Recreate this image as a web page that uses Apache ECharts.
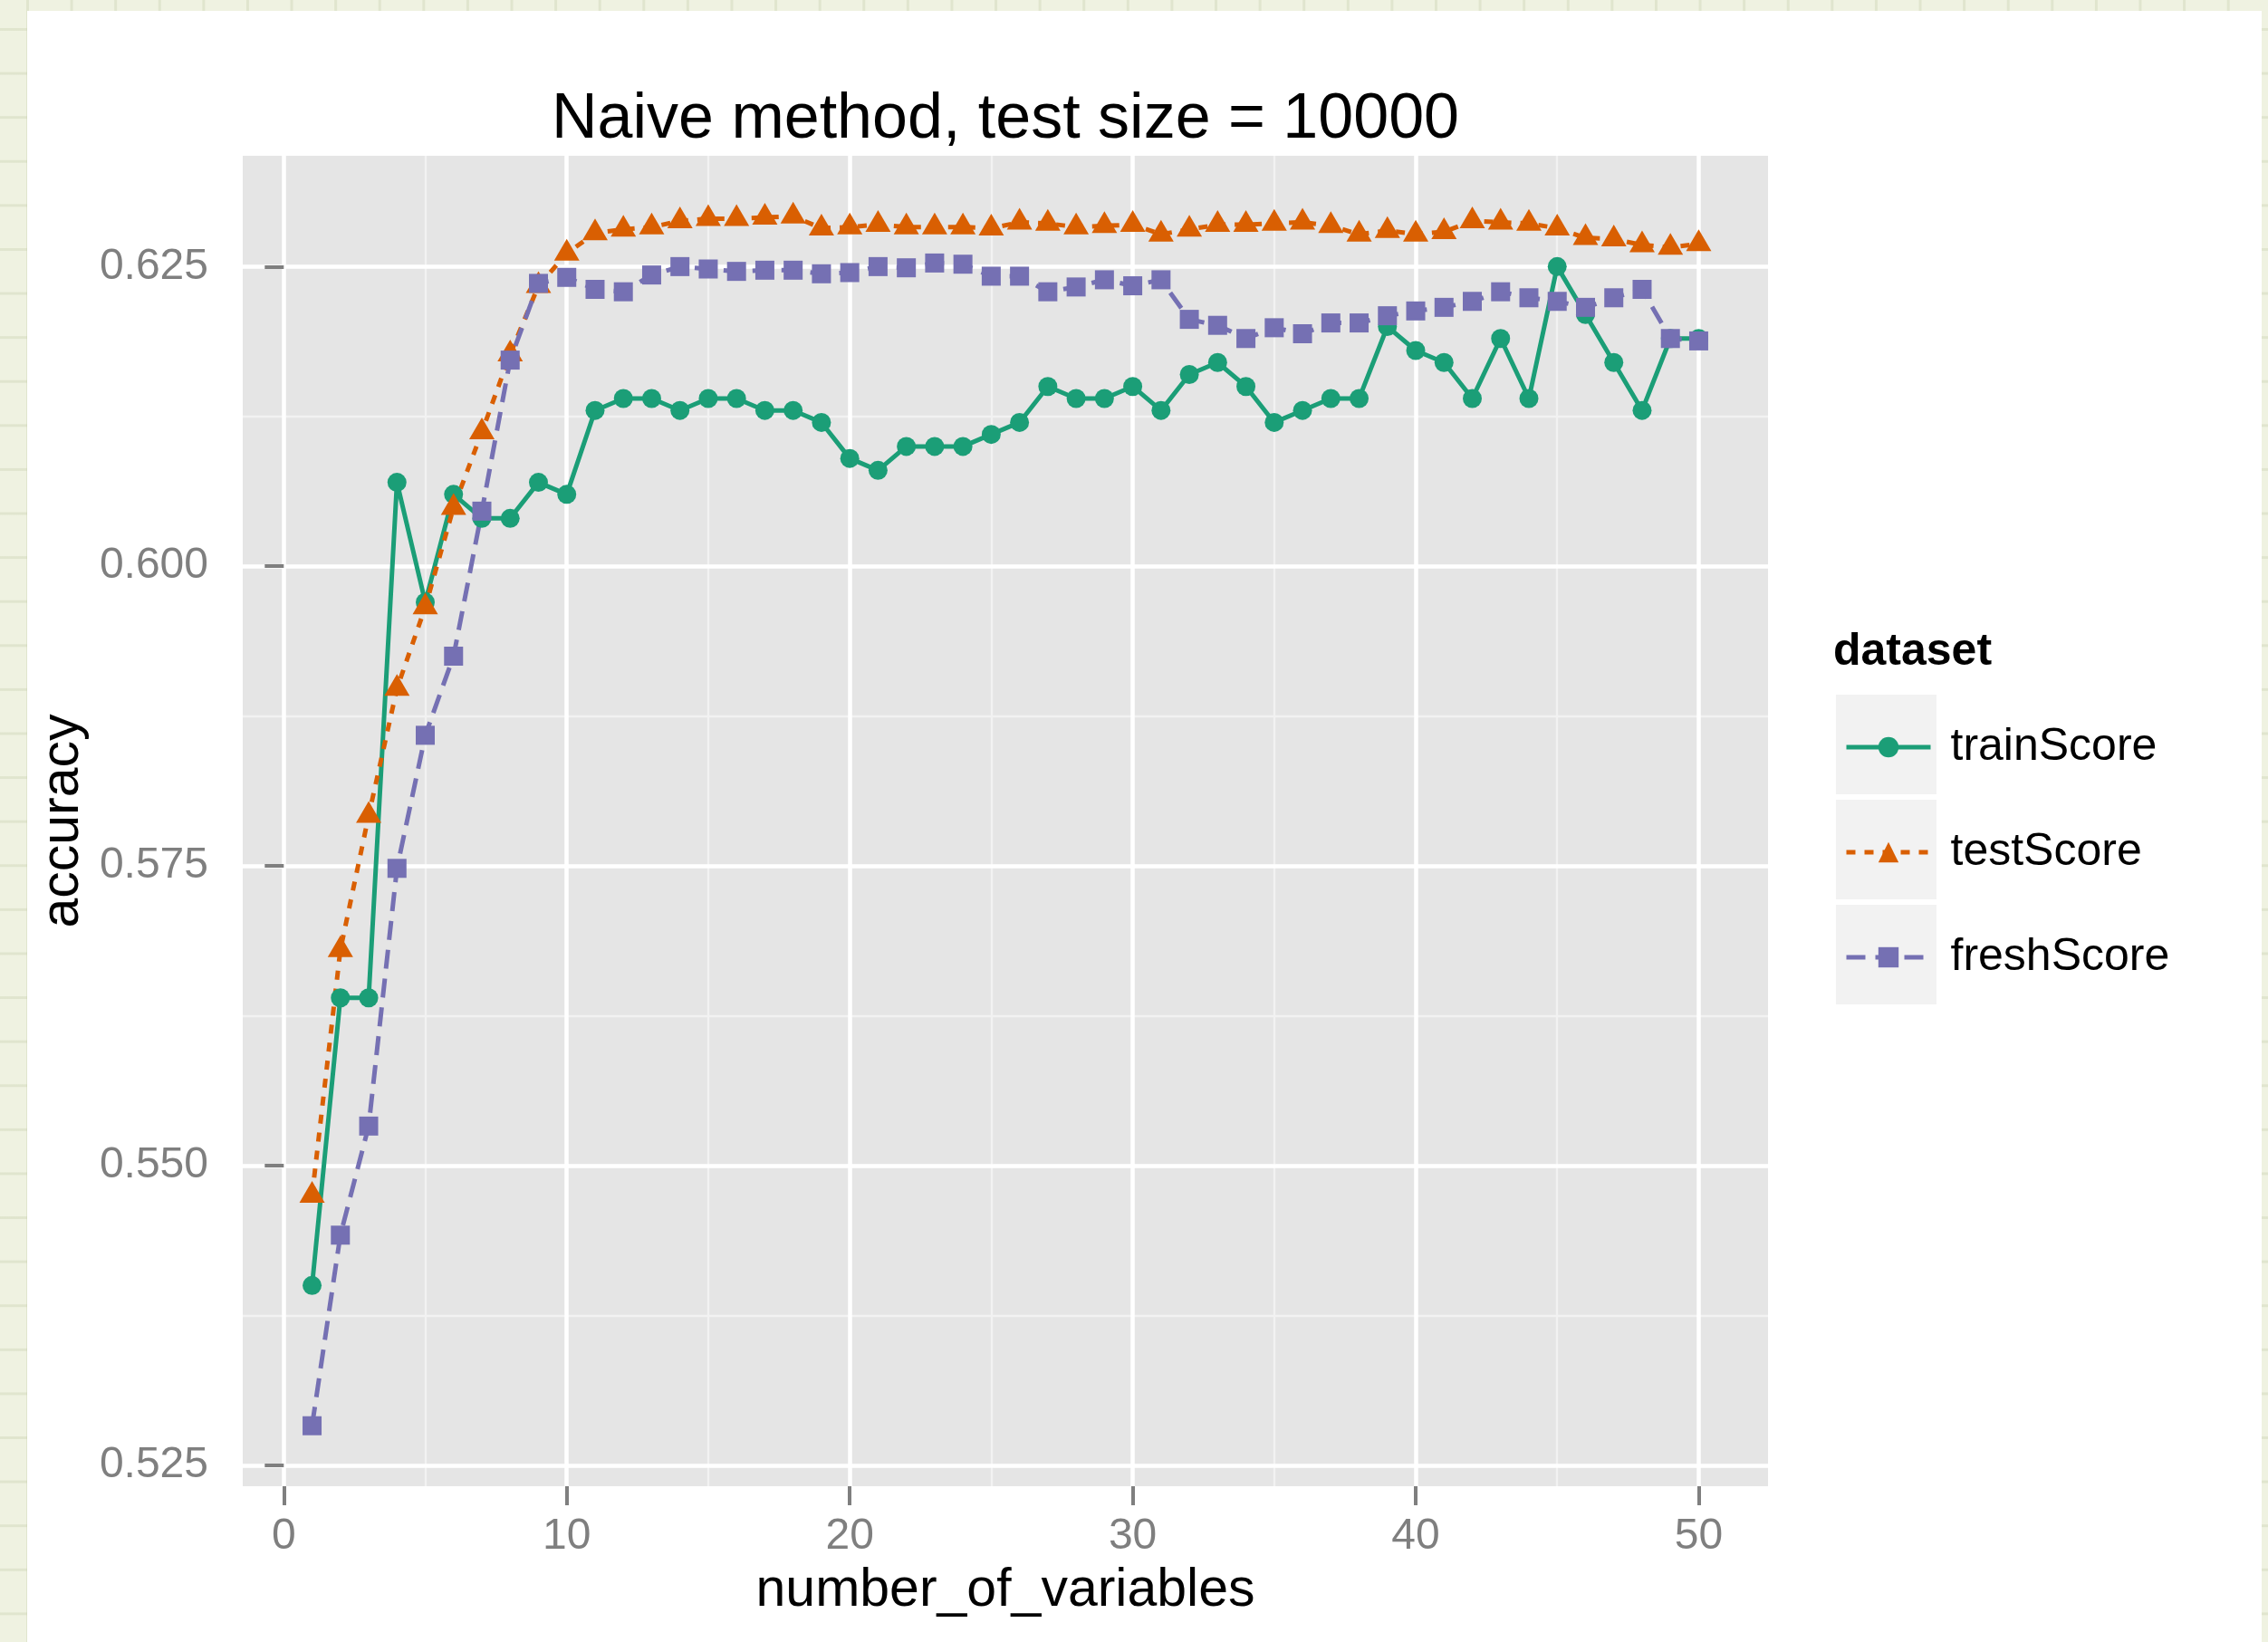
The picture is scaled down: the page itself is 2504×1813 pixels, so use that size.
<!DOCTYPE html>
<html>
<head>
<meta charset="utf-8">
<script src="https://cdn.jsdelivr.net/npm/echarts@6/dist/echarts.min.js"></script>
<style>
  html, body { margin: 0; padding: 0; width: 2504px; height: 1813px; overflow: hidden; }
  body {
    background-color: #eff2e1;
    background-image:
      linear-gradient(to right, rgba(196, 204, 170, 0.35) 0, rgba(196, 204, 170, 0.35) 3px, transparent 3px),
      linear-gradient(to bottom, rgba(196, 204, 170, 0.35) 0, rgba(196, 204, 170, 0.35) 3px, transparent 3px);
    background-size: 48.6px 48.6px;
    background-position: 29px 31px;
  }
  #card { position: absolute; left: 30px; top: 12px; right: 7px; bottom: 0; background: #ffffff; }
  #chart { position: absolute; left: 0; top: 0; width: 2504px; height: 1813px; }
</style>
</head>
<body>
<div id="card"></div>
<div id="chart"></div>
<script>
// number of variables used by the model
const numberOfVariables = [1, 2, 3, 4, 5, 6, 7, 8, 9, 10, 11, 12, 13, 14, 15, 16, 17, 18, 19, 20,
  21, 22, 23, 24, 25, 26, 27, 28, 29, 30, 31, 32, 33, 34, 35, 36, 37, 38, 39, 40,
  41, 42, 43, 44, 45, 46, 47, 48, 49, 50];

// accuracy per dataset
const trainScore = [0.540, 0.564, 0.564, 0.607, 0.597, 0.606, 0.604, 0.604, 0.607, 0.606,
  0.613, 0.614, 0.614, 0.613, 0.614, 0.614, 0.613, 0.613, 0.612, 0.609,
  0.608, 0.610, 0.610, 0.610, 0.611, 0.612, 0.615, 0.614, 0.614, 0.615,
  0.613, 0.616, 0.617, 0.615, 0.612, 0.613, 0.614, 0.614, 0.620, 0.618,
  0.617, 0.614, 0.619, 0.614, 0.625, 0.621, 0.617, 0.613, 0.619, 0.619];

const testScore = [0.5475, 0.5680, 0.5792, 0.5898, 0.5966, 0.6049, 0.6112, 0.6177, 0.6234, 0.6261,
  0.6278, 0.6281, 0.6283, 0.6288, 0.6290, 0.6290, 0.6291, 0.6292, 0.6282, 0.6283,
  0.6285, 0.6283, 0.6283, 0.6283, 0.6282, 0.6287, 0.6286, 0.6283, 0.6284, 0.6285,
  0.6277, 0.6281, 0.6285, 0.6285, 0.6286, 0.6287, 0.6284, 0.6277, 0.6280, 0.6277,
  0.6279, 0.6288, 0.6287, 0.6286, 0.6282, 0.6274, 0.6273, 0.6268, 0.6266, 0.6269];

const freshScore = [0.5283, 0.5442, 0.5533, 0.5748, 0.5859, 0.5925, 0.6046, 0.6172, 0.6236, 0.6241,
  0.6231, 0.6229, 0.6243, 0.6250, 0.6248, 0.6246, 0.6247, 0.6247, 0.6244, 0.6245,
  0.6250, 0.6249, 0.6253, 0.6252, 0.6242, 0.6242, 0.6229, 0.6233, 0.6239, 0.6234,
  0.6239, 0.6206, 0.6201, 0.6190, 0.6199, 0.6194, 0.6203, 0.6203, 0.6209, 0.6213,
  0.6216, 0.6221, 0.6229, 0.6224, 0.6221, 0.6216, 0.6224, 0.6231, 0.6190, 0.6188];

// axis breaks
const xTicks = [0, 10, 20, 30, 40, 50];
const xMinorTicks = [5, 15, 25, 35, 45];
const yTicks = [0.525, 0.550, 0.575, 0.600, 0.625];
const yMinorTicks = [0.5375, 0.5625, 0.5875, 0.6125];

const FONT = '"Liberation Sans", Arial, Helvetica, sans-serif';

// 5% padding on each side of the data range
function expand(values) {
  const lo = Math.min.apply(null, values), hi = Math.max.apply(null, values);
  const r = hi - lo;
  return [lo - 0.05 * r, hi + 0.05 * r];
}
const xRange = expand(numberOfVariables);
const yRange = expand(trainScore.concat(testScore, freshScore));

const LINE_WIDTH = 5;

const datasets = [
  { name: 'trainScore', values: trainScore, color: '#1b9e77', dash: 'solid',
    symbol: 'circle', size: 21, offset: [0, 0] },
  { name: 'testScore', values: testScore, color: '#d95f02', dash: [10, 10],
    symbol: 'triangle', size: [28, 24], offset: [0, -4] },
  { name: 'freshScore', values: freshScore, color: '#7570b3', dash: [21, 11],
    symbol: 'rect', size: 21, offset: [0, 0] }
];

function pairs(values) {
  return numberOfVariables.map((x, i) => [x, values[i]]);
}

const series = [];
// lines first, all beneath the points
datasets.forEach(d => {
  series.push({
    type: 'line', name: d.name, data: pairs(d.values),
    showSymbol: false, symbol: d.symbol, symbolSize: d.size,
    itemStyle: { color: d.color },
    lineStyle: { color: d.color, width: LINE_WIDTH, type: d.dash, cap: 'butt' },
    z: 2, silent: true
  });
});
datasets.forEach(d => {
  series.push({
    type: 'scatter', name: d.name, data: pairs(d.values),
    symbol: d.symbol, symbolSize: d.size, symbolOffset: d.offset,
    itemStyle: { color: d.color, opacity: 1 },
    z: 3, silent: true
  });
});

const majorAxisCommon = {
  axisLine: { show: false },
  axisTick: { show: true, length: 21, lineStyle: { color: '#7f7f7f', width: 4 } },
  axisLabel: { color: '#7f7f7f', fontSize: 48, fontFamily: FONT },
  splitLine: { show: true, lineStyle: { color: '#ffffff', width: 4.5 } },
  nameTextStyle: { color: '#000000', fontSize: 59, fontFamily: FONT },
  z: 1
};
const minorAxisCommon = {
  axisLine: { show: false },
  axisLabel: { show: false },
  splitLine: { show: true, lineStyle: { color: '#f2f2f2', width: 2.3 } },
  z: 0
};

const option = {
  animation: false,
  backgroundColor: 'transparent',
  textStyle: { fontFamily: FONT },
  grid: {
    left: 268, top: 172, right: 552, bottom: 172,
    show: true, backgroundColor: '#e5e5e5', borderWidth: 0
  },
  xAxis: [
    Object.assign({}, majorAxisCommon, {
      type: 'value', min: xRange[0], max: xRange[1],
      name: 'number_of_variables', nameLocation: 'middle', nameGap: 86,
      axisTick: Object.assign({}, majorAxisCommon.axisTick, { customValues: xTicks }),
      axisLabel: Object.assign({}, majorAxisCommon.axisLabel, { customValues: xTicks, margin: 32 })
    }),
    Object.assign({}, minorAxisCommon, {
      type: 'value', min: xRange[0], max: xRange[1],
      axisTick: { show: false, customValues: xMinorTicks }
    })
  ],
  yAxis: [
    Object.assign({}, majorAxisCommon, {
      type: 'value', min: yRange[0], max: yRange[1],
      name: 'accuracy', nameLocation: 'middle', nameGap: 167, nameRotate: 90,
      axisTick: Object.assign({}, majorAxisCommon.axisTick, { customValues: yTicks }),
      axisLabel: Object.assign({}, majorAxisCommon.axisLabel, {
        customValues: yTicks, margin: 38,
        formatter: v => v.toFixed(3)
      })
    }),
    Object.assign({}, minorAxisCommon, {
      type: 'value', min: yRange[0], max: yRange[1], position: 'left',
      axisTick: { show: false, customValues: yMinorTicks }
    })
  ],
  legend: {
    data: datasets.map(d => d.name),
    orient: 'vertical', left: 2036, top: 800,
    itemWidth: 93, itemHeight: 28, itemGap: 66, padding: 0,
    selectedMode: false,
    lineStyle: { width: LINE_WIDTH },
    textStyle: { color: '#000000', fontSize: 50, fontFamily: FONT, padding: [0, 0, 0, 17] }
  },
  graphic: [
    { type: 'rect', shape: { x: 2027, y: 767, width: 111, height: 110 }, style: { fill: '#f2f2f2' }, z: 0 },
    { type: 'rect', shape: { x: 2027, y: 883, width: 111, height: 110 }, style: { fill: '#f2f2f2' }, z: 0 },
    { type: 'rect', shape: { x: 2027, y: 999, width: 111, height: 110 }, style: { fill: '#f2f2f2' }, z: 0 },
    { type: 'text', x: 1110, y: 133, z: 5,
      style: { text: 'Naive method, test size = 10000', font: '70px ' + FONT, fill: '#000000',
               align: 'center', verticalAlign: 'middle' } },
    { type: 'text', x: 2024, y: 720, z: 5,
      style: { text: 'dataset', font: 'bold 50px ' + FONT, fill: '#000000',
               align: 'left', verticalAlign: 'middle' } }
  ],
  series: series
};

const chart = echarts.init(document.getElementById('chart'), null, { renderer: 'canvas' });
chart.setOption(option);
</script>
</body>
</html>
